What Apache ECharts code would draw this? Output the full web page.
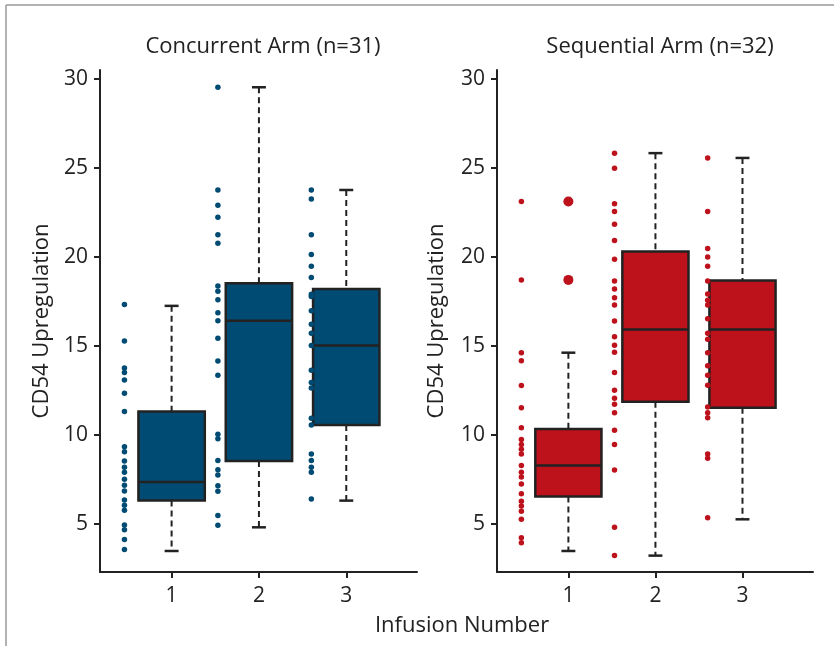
<!DOCTYPE html>
<html>
<head>
<meta charset="utf-8">
<script src="https://cdn.jsdelivr.net/npm/echarts@6/dist/echarts.min.js"></script>
<style>html,body{margin:0;padding:0;background:#fff}#c{width:834px;height:646px}</style>
</head>
<body>
<div id="c"></div>
<script>
// ---- data ----
const panelTitles = ['Concurrent Arm (n=31)', 'Sequential Arm (n=32)'];
const categories = [1, 2, 3];
const yTicks = [5, 10, 15, 20, 25, 30];
const dotX = [0.46, 1.53, 2.6];

const concurrent1 = [17.32, 15.28, 13.76, 13.5, 13.09, 12.34, 11.31, 9.34, 9.06, 8.54, 8.19, 7.9, 7.51, 7.17, 6.85, 6.35, 6.05, 5.77, 4.94, 4.68, 4.12, 3.56];
const concurrent2 = [29.53, 23.76, 22.9, 22.23, 21.25, 20.77, 18.37, 18.07, 17.6, 16.87, 16.42, 15.43, 14.16, 13.35, 10.04, 9.79, 8.56, 8.05, 7.75, 7.15, 6.84, 5.47, 4.93];
const concurrent3 = [23.76, 23.26, 21.25, 20.13, 19.48, 18.84, 17.9, 17.77, 16.98, 16.22, 15.71, 15.02, 13.63, 12.94, 12.64, 10.94, 10.56, 8.93, 8.56, 8.19, 7.9, 6.4];

const sequential1 = [23.11, 18.71, 14.62, 14.17, 12.77, 11.52, 10.41, 9.74, 9.46, 9.2, 8.93, 8.28, 7.9, 7.64, 7.25, 6.7, 6.28, 6.01, 5.71, 5.26, 4.23, 3.95];
const sequential2 = [25.83, 24.98, 22.98, 22.55, 21.84, 20.92, 19.87, 18.65, 18.2, 17.7, 17.3, 16.4, 15.52, 15.04, 14.65, 13.5, 12.51, 12.06, 11.72, 11.24, 10.26, 9.46, 8.03, 4.81, 3.22];
const sequential3 = [25.56, 22.55, 20.47, 20.0, 19.48, 18.65, 17.92, 17.57, 17.3, 16.53, 15.71, 15.38, 14.62, 13.88, 13.35, 12.79, 11.57, 11.25, 10.96, 8.93, 8.69, 5.35];

// box stats: [min, Q1, median, Q3, max]
const concurrentBox = [
  [3.48, 6.31, 7.36, 11.31, 17.25],
  [4.81, 8.54, 16.42, 18.52, 29.53],
  [6.31, 10.56, 15.02, 18.2, 23.76]
];
const sequentialBox = [
  [3.48, 6.54, 8.28, 10.34, 14.62],
  [3.22, 11.87, 15.92, 20.3, 25.83],
  [5.26, 11.53, 15.92, 18.67, 25.56]
];
const sequentialOutliers = [23.11, 18.71];

// ---- build ----
const FONT = 'Open Sans';
const BLUE = '#004B73';
const RED = '#BD111B';
const INK = '#222222';

const chart = echarts.init(document.getElementById('c'), null, {renderer: 'canvas'});

function boxData(stats) {
  return stats.map((s, i) => [categories[i], s[0], s[1], s[2], s[3], s[4]]);
}
function dotData(groups) {
  const out = [];
  groups.forEach((g, i) => g.forEach(v => out.push([dotX[i], v])));
  return out;
}

function renderBox(fill) {
  return function (params, api) {
    const x = api.value(0);
    const hw = 0.38, cw = 0.08;
    const mn = api.value(1), q1 = api.value(2), md = api.value(3), q3 = api.value(4), mx = api.value(5);
    const tl = api.coord([x - hw, q3]);
    const br = api.coord([x + hw, q1]);
    const c = api.coord([x, md]);
    const top = api.coord([x, mx]);
    const bot = api.coord([x, mn]);
    const capL = api.coord([x - cw, 0])[0];
    const capR = api.coord([x + cw, 0])[0];
    const dash = {stroke: INK, lineWidth: 2, lineDash: [6, 4]};
    const solid = {stroke: INK, lineWidth: 2.5};
    return {
      type: 'group',
      children: [
        {type: 'line', shape: {x1: top[0], y1: top[1], x2: top[0], y2: tl[1]}, style: dash},
        {type: 'line', shape: {x1: bot[0], y1: br[1], x2: bot[0], y2: bot[1]}, style: dash},
        {type: 'line', shape: {x1: capL, y1: top[1], x2: capR, y2: top[1]}, style: solid},
        {type: 'line', shape: {x1: capL, y1: bot[1], x2: capR, y2: bot[1]}, style: solid},
        {type: 'rect', shape: {x: tl[0], y: tl[1], width: br[0] - tl[0], height: br[1] - tl[1]},
          style: {fill: fill, stroke: INK, lineWidth: 2.5}},
        {type: 'line', shape: {x1: tl[0], y1: c[1], x2: br[0], y2: c[1]}, style: solid}
      ]
    };
  };
}

const grids = [
  {left: 100, top: 70, width: 317, height: 502},
  {left: 497, top: 70, width: 316, height: 502}
];

const xAxes = grids.map((g, i) => ({
  type: 'value', gridIndex: i, min: 0.18, max: 3.81,
  axisLine: {show: true, lineStyle: {color: INK, width: 2}},
  axisTick: {show: true, customValues: categories, length: 6, lineStyle: {color: INK, width: 2}},
  axisLabel: {customValues: categories, color: INK, fontFamily: FONT, fontSize: 21, margin: 14},
  splitLine: {show: false}
}));
const yAxes = grids.map((g, i) => ({
  type: 'value', gridIndex: i, min: 2.3, max: 30.5,
  name: 'CD54 Upregulation', nameLocation: 'middle', nameGap: i === 0 ? 47 : 49,
  nameTextStyle: {color: INK, fontFamily: FONT, fontSize: 22},
  axisLine: {show: true, lineStyle: {color: INK, width: 2}},
  axisTick: {show: true, customValues: yTicks, length: 6, lineStyle: {color: INK, width: 2}},
  axisLabel: {customValues: yTicks, color: INK, fontFamily: FONT, fontSize: 21, margin: 12},
  splitLine: {show: false}
}));

const option = {
  backgroundColor: '#fff',
  animation: false,
  title: [
    {text: panelTitles[0], left: 258, top: 31, textAlign: 'center',
      textStyle: {fontFamily: FONT, fontSize: 22, fontWeight: 'normal', color: INK}},
    {text: panelTitles[1], left: 655, top: 31, textAlign: 'center',
      textStyle: {fontFamily: FONT, fontSize: 22, fontWeight: 'normal', color: INK}},
    {text: 'Infusion Number', left: 457, top: 610, textAlign: 'center',
      textStyle: {fontFamily: FONT, fontSize: 22, fontWeight: 'normal', color: INK}}
  ],
  graphic: [
    {type: 'line', shape: {x1: 6, y1: 5, x2: 834, y2: 5}, style: {stroke: '#999', lineWidth: 1.5}},
    {type: 'line', shape: {x1: 6, y1: 5, x2: 6, y2: 646}, style: {stroke: '#999', lineWidth: 1.5}}
  ],
  grid: grids,
  xAxis: xAxes,
  yAxis: yAxes,
  series: [
    {type: 'custom', xAxisIndex: 0, yAxisIndex: 0, renderItem: renderBox(BLUE), data: boxData(concurrentBox), z: 2},
    {type: 'scatter', xAxisIndex: 0, yAxisIndex: 0, symbolSize: 5.5, itemStyle: {color: BLUE, opacity: 1},
      data: dotData([concurrent1, concurrent2, concurrent3]), z: 3},
    {type: 'custom', xAxisIndex: 1, yAxisIndex: 1, renderItem: renderBox(RED), data: boxData(sequentialBox), z: 2},
    {type: 'scatter', xAxisIndex: 1, yAxisIndex: 1, symbolSize: 5.5, itemStyle: {color: RED, opacity: 1},
      data: dotData([sequential1, sequential2, sequential3]), z: 3},
    {type: 'scatter', xAxisIndex: 1, yAxisIndex: 1, symbolSize: 10, itemStyle: {color: RED, opacity: 1},
      data: sequentialOutliers.map(v => [categories[0], v]), z: 3}
  ]
};
chart.setOption(option);
</script>
</body>
</html>
